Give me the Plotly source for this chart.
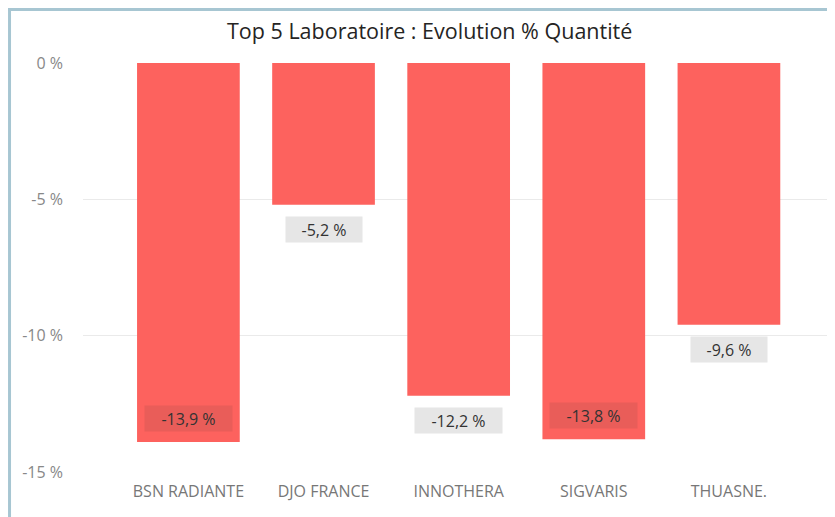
import plotly.graph_objects as go

categories = ["BSN RADIANTE", "DJO FRANCE", "INNOTHERA", "SIGVARIS", "THUASNE."]
evolution_pct = [-13.9, -5.2, -12.2, -13.8, -9.6]
tick_values = [0, -5, -10, -15]
tick_labels = ["0 %", "-5 %", "-10 %", "-15 %"]
title_text = "Top 5 Laboratoire : Evolution % Quantité"

BAR_COLOR = "#FD625E"
FONT = "Open Sans"

fig = go.Figure()
fig.add_trace(go.Bar(
    x=list(range(len(categories))),
    y=evolution_pct,
    marker=dict(color=BAR_COLOR, line=dict(width=0)),
    width=0.76,
    hoverinfo="skip",
))

def fmt(v):
    return ("%.1f" % v).replace(".", ",") + " %"

for i, v in enumerate(evolution_pct):
    inside = v < -13.5
    txt = fmt(v)
    fig.add_annotation(
        x=i, y=v, xref="x", yref="y",
        text=txt, showarrow=False,
        yshift=24 if inside else -25,
        font=dict(family=FONT, size=16, color="#333333"),
        bgcolor="rgba(90,60,60,0.12)" if inside else "#E6E6E6",
        bordercolor="rgba(0,0,0,0)",
        borderpad=1,
        borderwidth=1,
        width=11 * len(txt) + 8,
        height=23,
    )

fig.add_annotation(
    x=0.4614, y=1.0, xref="paper", yref="paper", yanchor="middle",
    yshift=33, text=title_text, showarrow=False,
    font=dict(family=FONT, size=21.5, color="#252423"),
)

# outer visual frame
fig.add_shape(type="rect", xref="paper", yref="paper",
              x0=-0.0977, x1=1.05, y0=-0.3, y1=1.1308,
              line=dict(color="#A7C6D2", width=3), layer="above")

fig.update_layout(
    width=835, height=517,
    margin=dict(l=75, r=8, t=55, b=53),
    paper_bgcolor="white", plot_bgcolor="white",
    showlegend=False,
    font=dict(family=FONT),
    xaxis=dict(
        range=[-0.78, 4.785],
        tickvals=list(range(len(categories))),
        ticktext=categories,
        tickfont=dict(family=FONT, size=16, color="#777777"),
        showgrid=False, zeroline=False, showline=False,
        ticks="", ticklabelstandoff=8,
    ),
    yaxis=dict(
        range=[-15, 0],
        tickvals=tick_values,
        ticktext=tick_labels,
        tickfont=dict(family=FONT, size=16, color="#888888"),
        showgrid=True, gridcolor="#EAEAEA", gridwidth=1,
        zeroline=False, showline=False, ticks="",
        ticklabelstandoff=19,
    ),
)

fig.write_html("out.html")
